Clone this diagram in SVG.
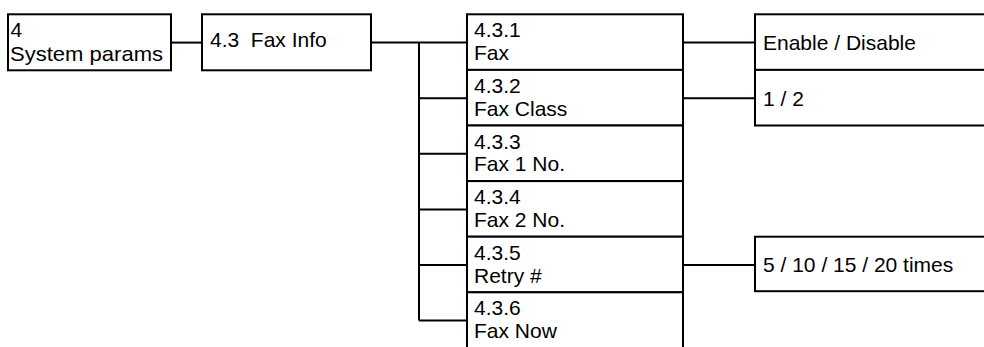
<svg xmlns="http://www.w3.org/2000/svg" width="984" height="347" viewBox="0 0 984 347">
<style>
.box{fill:#fff;stroke:#000;stroke-width:2}
.ln{fill:none;stroke:#000;stroke-width:2}
text{font-family:"Liberation Sans",Arial,sans-serif;font-size:21px;fill:#000}
</style>
<rect width="984" height="347" fill="#fff"/>
<g id="connectors">
<path class="ln" d="M171 42.6H202"/>
<path class="ln" d="M371 42.6H467M419 42.6V320.6M419 98.2H467M419 153.8H467M419 209.4H467M419 265H467M419 320.6H467"/>
<path class="ln" d="M683 42.6H755M683 98.2H755M683 265H755"/>
</g>
<g id="n4">
<rect class="box" x="8" y="14.3" width="163" height="56"/>
<text x="10.5" y="36.8">4</text>
<text x="10" y="60.6" textLength="153" lengthAdjust="spacingAndGlyphs">System params</text>
</g>
<g id="n43">
<rect class="box" x="202" y="14.3" width="169" height="56"/>
<text x="210" y="47" xml:space="preserve">4.3  Fax Info</text>
</g>
<g id="n431">
<rect class="box" x="467" y="14.3" width="216" height="55.6"/>
<text x="474" y="37.3">4.3.1</text>
<text x="474" y="60.2">Fax</text>
</g>
<g id="n432">
<rect class="box" x="467" y="69.9" width="216" height="55.6"/>
<text x="474" y="92.9">4.3.2</text>
<text x="474" y="115.8">Fax Class</text>
</g>
<g id="n433">
<rect class="box" x="467" y="125.5" width="216" height="55.6"/>
<text x="474" y="148.5">4.3.3</text>
<text x="474" y="171.4">Fax 1 No.</text>
</g>
<g id="n434">
<rect class="box" x="467" y="181.1" width="216" height="55.6"/>
<text x="474" y="204.1">4.3.4</text>
<text x="474" y="227">Fax 2 No.</text>
</g>
<g id="n435">
<rect class="box" x="467" y="236.7" width="216" height="55.6"/>
<text x="474" y="259.7">4.3.5</text>
<text x="474" y="282.6">Retry #</text>
</g>
<g id="n436">
<rect class="box" x="467" y="292.3" width="216" height="57"/>
<text x="474" y="315.3">4.3.6</text>
<text x="474" y="338.2">Fax Now</text>
</g>
<g id="v431">
<rect class="box" x="755" y="14.3" width="240" height="55.6"/>
<text x="763" y="50.4">Enable / Disable</text>
</g>
<g id="v432">
<rect class="box" x="755" y="69.9" width="240" height="55.6"/>
<text x="763" y="106">1 / 2</text>
</g>
<g id="v435">
<rect class="box" x="755" y="236.7" width="240" height="54.5"/>
<text x="763" y="271.7">5 / 10 / 15 / 20 times</text>
</g>
</svg>
